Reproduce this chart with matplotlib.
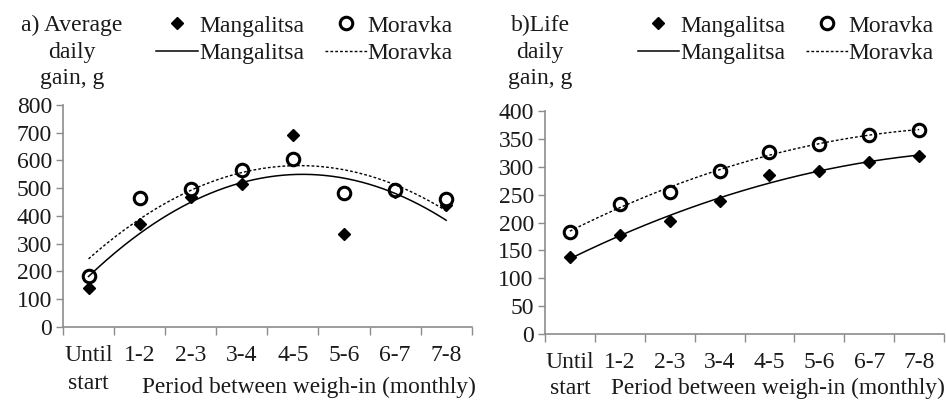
import numpy as np
import matplotlib
matplotlib.use("Agg")
import matplotlib.pyplot as plt

plt.rcParams['font.family'] = ['Liberation Serif', 'DejaVu Serif']
plt.rcParams['font.size'] = 17

# ---------- data
periods = ["Until\nstart", "1-2", "2-3", "3-4", "4-5", "5-6", "6-7", "7-8"]

adg_mangalitsa = [140, 370, 467, 515, 690, 333, 485, 438]
adg_moravka = [185, 465, 498, 566, 607, 482, 495, 462]

life_mangalitsa = [139, 177, 203, 238, 286, 292, 309, 319]
life_moravka = [184, 233, 255, 293, 327, 342, 357, 366]

axis_grey = '#8c8c8c'
txt_col = '#1a1a1a'


def trend(x, y, order=2):
    # excel-style polynomial trendline
    c = np.polyfit(x, y, order)
    xs = np.linspace(x[0], x[-1], 200)
    return xs, np.polyval(c, xs)


def draw_panel(fig, ax, mang, mor, ymax, ystep, xlab_xy, leg_x, tick_pad,
               tick_ls):
    x = np.arange(1, len(periods) + 1)

    h1, = ax.plot(x, mang, ls='none', marker='D', ms=6, color='black',
                  label='Mangalitsa')
    h2, = ax.plot(x, mor, ls='none', marker='o', ms=9, mfc='white',
                  mec='black', mew=2.2, label='Moravka')
    xs, ys = trend(x, mang)
    h3, = ax.plot(xs, ys, color='black', lw=1.1, label='Mangalitsa')
    xs, ys = trend(x, mor)
    h4, = ax.plot(xs, ys, color='black', lw=1.0, ls=(0, (2, 1.5)),
                  label='Moravka')

    ax.set_xlim(0.5, len(periods) + 0.5)
    ax.set_ylim(0, ymax)
    ax.set_yticks(np.arange(0, ymax + 1, ystep))

    # category labels centred, ticks on the boundaries
    ax.set_xticks(x)
    ax.set_xticklabels(periods, va='top', linespacing=tick_ls)
    ax.set_xticks(np.arange(0.5, len(periods) + 1), minor=True)
    ax.tick_params(axis='x', which='major', length=0, pad=tick_pad,
                   colors=txt_col)
    ax.tick_params(axis='x', which='minor', length=6, width=1,
                   color=axis_grey, direction='out')
    ax.tick_params(axis='y', length=5, width=1, color=axis_grey,
                   labelcolor=txt_col, pad=3)

    for s in ['top', 'right']:
        ax.spines[s].set_visible(False)
    for s in ['left', 'bottom']:
        ax.spines[s].set_color(axis_grey)
        ax.spines[s].set_linewidth(1.2)

    fig.text(xlab_xy[0], xlab_xy[1], "Period between weigh-in (monthly)",
             ha='left', va='center', color=txt_col, fontsize=16.8)

    leg = ax.legend([h1, h3, h2, h4],
                    ['Mangalitsa', 'Mangalitsa', 'Moravka', 'Moravka'],
                    ncol=2, frameon=False, loc='upper left',
                    bbox_to_anchor=(leg_x, 0.986),
                    bbox_transform=fig.transFigure, handlelength=1.75,
                    handletextpad=0.05, columnspacing=0.9, labelspacing=0.25,
                    borderaxespad=0, fontsize=17)
    for t in leg.get_texts():
        t.set_color(txt_col)
    return ax


fig = plt.figure(figsize=(9.46, 4.0), dpi=100)

ax1 = fig.add_axes([0.0666, 0.183, 0.432, 0.5545])
draw_panel(fig, ax1, adg_mangalitsa, adg_moravka, 800, 100,
           (142 / 946, 1 - 387 / 400), 0.1554, 13, 1.45)
fig.text(0.076, 0.87, "a) Average\ndaily\ngain, g", ha='center', va='center',
         linespacing=1.35, color=txt_col)

ax2 = fig.add_axes([0.576, 0.165, 0.422, 0.557])
draw_panel(fig, ax2, life_mangalitsa, life_moravka, 400, 50,
           (611 / 946, 1 - 388 / 400), 0.664, 13, 1.3)
fig.text(0.571, 0.87, "b)Life\ndaily\ngain, g", ha='center', va='center',
         linespacing=1.35, color=txt_col)

fig.savefig("out.png", dpi=100)
